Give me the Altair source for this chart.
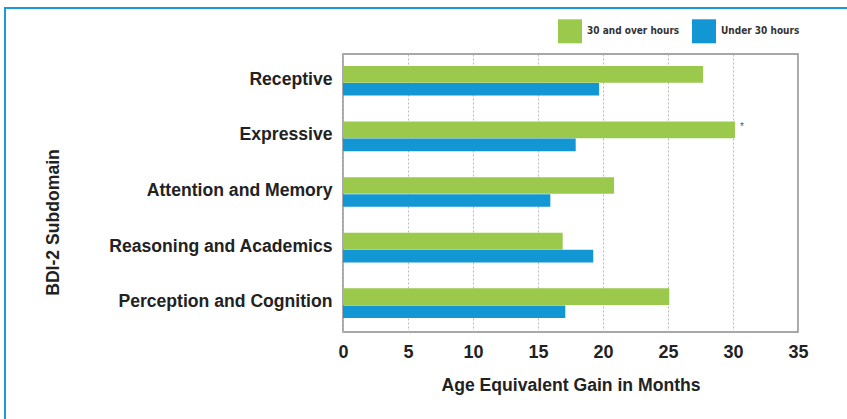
import altair as alt
import pandas as pd

categories = ["Receptive", "Expressive", "Attention and Memory",
              "Reasoning and Academics", "Perception and Cognition"]
series_names = ["30 and over hours", "Under 30 hours"]
over30 = [27.7, 30.15, 20.85, 16.9, 25.1]
under30 = [19.7, 17.9, 15.95, 19.25, 17.1]
notes = ["", "*", "", "", ""]
x_ticks = [0, 5, 10, 15, 20, 25, 30, 35]

rows = []
for c, a, b in zip(categories, over30, under30):
    rows.append({"cat": c, "series": series_names[0], "value": a})
    rows.append({"cat": c, "series": series_names[1], "value": b})
df = pd.DataFrame(rows)

notes_df = pd.DataFrame({"cat": categories, "series": series_names[0],
                         "value": over30, "note": notes})
notes_df = notes_df[notes_df["note"] != ""]

GREEN = "#9BC94C"
BLUE = "#1296D4"
FONT = "Liberation Sans"

y_enc = alt.Y("cat:N", sort=categories,
              scale=alt.Scale(paddingInner=0.46, paddingOuter=0.23),
              axis=alt.Axis(title="BDI-2 Subdomain", labelFont=FONT,
                            labelFontSize=17.6, labelFontWeight="bold",
                            labelColor="#222", labelPadding=11, ticks=False,
                            domain=False, labelOffset=-2, labelLimit=400,
                            titleFont=FONT, titleFontSize=17.6,
                            titleFontWeight="bold", titleColor="#222",
                            titleAngle=270, titleX=-290, titleY=168,
                            titleAlign="center", titleBaseline="middle"))
x_enc = alt.X("value:Q", scale=alt.Scale(domain=[0, 35], nice=False),
              axis=alt.Axis(values=x_ticks, title="Age Equivalent Gain in Months",
                            labelFont=FONT, labelFontSize=18,
                            labelFontWeight="bold", labelColor="#222",
                            labelPadding=11, labelFlush=False, ticks=False,
                            tickSize=0, domain=False, grid=True,
                            gridColor="#b8b8b8", gridDash=[2, 2], gridWidth=1,
                            titleFont=FONT, titleFontSize=17.6,
                            titleFontWeight="bold", titleColor="#222",
                            titleX=227.5, titleY=53, titleBaseline="middle"))
yoff = alt.YOffset("series:N", sort=series_names,
                   scale=alt.Scale(domain=series_names, paddingInner=0, paddingOuter=0))
color_enc = alt.Color("series:N", sort=series_names,
                      scale=alt.Scale(domain=series_names, range=[GREEN, BLUE]),
                      legend=alt.Legend(title=None, orient="none", legendX=215,
                                        legendY=-34.7, direction="horizontal",
                                        symbolType="square", symbolSize=576,
                                        symbolStrokeWidth=0, symbolOpacity=1,
                                        labelFont="DejaVu Sans Condensed, Liberation Sans Narrow, Liberation Sans",
                                        labelFontSize=10, labelFontWeight="bold",
                                        labelColor="#333", labelOffset=5,
                                        columnPadding=12, padding=0))

base = alt.Chart(df).encode(y=y_enc, x=x_enc, yOffset=yoff, color=color_enc)

bars_green = base.transform_filter(
    alt.datum.series == series_names[0]).mark_bar(size=16.7)
bars_blue = base.transform_filter(
    alt.datum.series == series_names[1]).mark_bar(size=12.6)

asterisk = alt.Chart(notes_df).mark_text(
    align="left", baseline="middle", dx=5, dy=-3, fontSize=10, color="#555"
).encode(
    y=alt.Y("cat:N", sort=categories),
    x=alt.X("value:Q"),
    yOffset=alt.YOffset("series:N", sort=series_names),
    text="note:N",
)

frame = alt.Chart(alt.Data(values=[{"a": 1}])).mark_rect(
    fillOpacity=0, stroke="#1A9BD7", strokeWidth=2
).encode(x=alt.value(-338), x2=alt.value(530), y=alt.value(-46), y2=alt.value(420))

chart = alt.layer(bars_green, bars_blue, asterisk, frame).properties(
    width=455, height=278,
    autosize=alt.AutoSizeParams(type="none"),
    padding={"left": 343, "top": 54, "right": 49, "bottom": 87},
    background="white",
).configure_view(stroke="#8a8a8a", strokeWidth=1.5)

chart.save("out.html", embed_options={"renderer": "svg", "actions": False})
